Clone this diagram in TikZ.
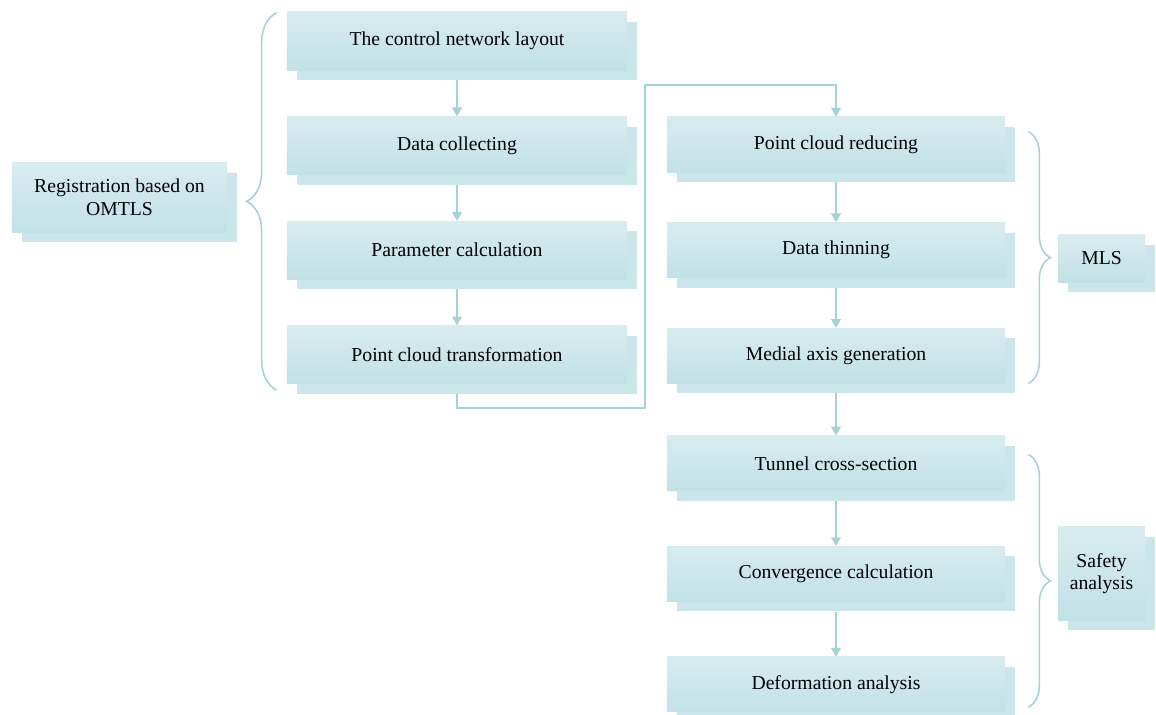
\documentclass[tikz,border=0pt]{standalone}
\usepackage{fontspec}
\setmainfont{Liberation Serif}
\usetikzlibrary{
	positioning,
	arrows.meta,
	shadows,
	decorations.pathreplacing
}
\definecolor{boxtop}{RGB}{216,236,239}
\definecolor{boxbot}{RGB}{194,225,230}
\definecolor{boxshade}{RGB}{203,230,234}
\definecolor{linecol}{RGB}{166,209,215}

\begin{document}
\begin{tikzpicture}[
			x=0.025cm,y=-0.025cm,
			block/.style={
				top color=boxtop,
				bottom color=boxbot,
				minimum width=8.5cm,
				minimum height=1.45cm,
				align=center,
				font=\fontsize{14}{16}\selectfont,
				general shadow={shadow xshift=.25cm,shadow yshift=-.25cm,fill=boxshade}
			},
			rblock/.style={block,minimum width=8.45cm,minimum height=1.375cm},
			arrow/.style={-{Triangle[length=2.2mm,width=2.4mm]},draw=linecol,line width=1.4pt},
			brace/.style={decorate,draw=linecol,line width=1.1pt}
			]
			
			\useasboundingbox (0,0) rectangle (1156,715);
			
			% registration column
			\node[block] (layout) at (457,41)
			{The control network layout};
			
			\node[block,below=1.15cm of layout] (collect)
			{Data collecting};
			
			\node[block,below=1.15cm of collect] (param)
			{Parameter calculation};
			
			\node[block,below=1.15cm of param] (transform)
			{Point cloud transformation};
			
			% processing column
			\node[rblock] (reduce) at (836,144.5)
			{Point cloud reducing};
			
			\node[rblock,below=1.25cm of reduce] (thin)
			{Data thinning};
			
			\node[rblock,below=1.25cm of thin] (medial)
			{Medial axis generation};
			
			\node[rblock,below=1.3cm of medial] (tunnel)
			{Tunnel cross-section};
			
			\node[rblock,below=1.375cm of tunnel] (conv)
			{Convergence calculation};
			
			\node[rblock,below=1.375cm of conv] (deform)
			{Deformation analysis};
			
			% side labels
			\node[block,minimum width=5.375cm,minimum height=1.725cm] (regist) at (119.5,197.5)
			{Registration based on\\OMTLS};
			
			\node[block,minimum width=2.175cm,minimum height=1.175cm] (mls) at (1101.5,258.5)
			{MLS};
			
			\node[block,minimum width=2.175cm,minimum height=2.325cm] (safety) at (1101.5,573.5)
			{Safety\\analysis};
			
			\draw[arrow] ([yshift=-.25cm]layout.south)--(collect);
			\draw[arrow] ([yshift=-.25cm]collect.south)--(param);
			\draw[arrow] ([yshift=-.25cm]param.south)--(transform);
			
			\coordinate (low) at (645,408);
			\coordinate (high) at (645,85);
			\draw[arrow] ([yshift=-.25cm]transform.south) |- (low) -- (high) -| (reduce.north);
			
			\draw[arrow] ([yshift=-.25cm]reduce.south)--(thin);
			\draw[arrow] ([yshift=-.25cm]thin.south)--(medial);
			\draw[arrow] ([yshift=-.25cm]medial.south)--(tunnel);
			\draw[arrow] ([yshift=-.25cm]tunnel.south)--(conv);
			\draw[arrow] ([yshift=-.25cm]conv.south)--(deform);
			
			\draw[brace,decoration={brace,amplitude=.75cm}]
			([xshift=-.25cm,yshift=-.15cm]transform.south west)--([xshift=-.25cm,yshift=-.025cm]layout.north west);
			\draw[brace,decoration={brace,amplitude=.55cm}]
			([xshift=.575cm,yshift=-.375cm]reduce.north east)--([xshift=.575cm]medial.south east);
			\draw[brace,decoration={brace,amplitude=.55cm}]
			([xshift=.575cm,yshift=-.475cm]tunnel.north east)--([xshift=.575cm,yshift=.125cm]deform.south east);
			
		\end{tikzpicture}
\end{document}
